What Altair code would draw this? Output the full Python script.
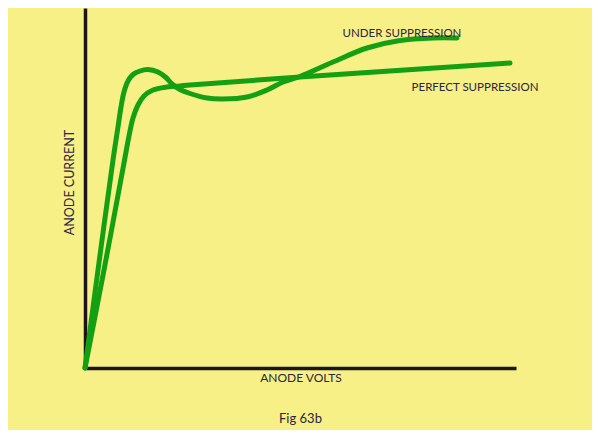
import altair as alt
import pandas as pd

# Curve readings (x: anode volts, y: anode current; arbitrary units)
under_x = [0, 13, 28, 33, 36, 39, 43, 48, 55, 63, 73, 81, 87, 95, 105, 122, 138, 162, 182, 198, 215, 248, 282, 315, 348, 372]
under_y = [0, 98, 208, 241, 261, 276, 287, 293.5, 297, 298.5, 296, 290.5, 284, 278.5, 274.5, 270, 269, 271, 278, 286, 291.5, 306, 320, 327.5, 330, 330]

perfect_x = [0, 19, 39, 44, 48, 53, 59, 68, 82, 95, 105, 215, 425]
perfect_y = [0, 98, 205, 232, 250, 263, 272, 278, 281, 282, 283, 291, 305]

label_text = ["UNDER SUPPRESSION", "PERFECT SUPPRESSION"]
label_x = [317, 390]
label_y = [334, 280]

rows = []
for i, (x, y) in enumerate(zip(under_x, under_y)):
    rows.append({"series": "under", "order": i, "v": x, "i": y})
for i, (x, y) in enumerate(zip(perfect_x, perfect_y)):
    rows.append({"series": "perfect", "order": i, "v": x, "i": y})
df = pd.DataFrame(rows)
labels = pd.DataFrame({"text": label_text, "v": label_x, "i": label_y})

BG = "#F6F086"
GREEN = "#14A012"
INK = "#2B2540"
FONT = "Lato"

xs = alt.Scale(domain=[0, 431], nice=False, zero=False)
ys = alt.Scale(domain=[0, 360], nice=False, zero=False)

x_axis = alt.Axis(title="ANODE VOLTS", ticks=False, labels=False, grid=False,
                  domainColor="#1C141A", domainWidth=3.5, titleFont=FONT,
                  titleFontSize=12, titleFontWeight="normal", titleColor=INK,
                  titlePadding=4)
y_axis = alt.Axis(title="ANODE CURRENT", ticks=False, labels=False, grid=False,
                  domainColor="#1C141A", domainWidth=3.5, titleFont=FONT,
                  titleFontSize=12.5, titleFontWeight="normal", titleColor=INK,
                  titlePadding=9, titleY=174)

lines = alt.Chart(df).mark_line(color=GREEN, strokeWidth=5, interpolate="catmull-rom",
                                strokeCap="round", strokeJoin="round").encode(
    x=alt.X("v:Q", scale=xs, axis=x_axis),
    y=alt.Y("i:Q", scale=ys, axis=y_axis),
    detail="series:N",
    order="order:Q",
)

texts = alt.Chart(labels).mark_text(font=FONT, fontSize=11.5, color=INK).encode(
    x=alt.X("v:Q", scale=xs),
    y=alt.Y("i:Q", scale=ys),
    text="text:N",
)

chart = alt.layer(lines, texts).properties(
    width=431, height=360,
    background=BG,
    padding={"left": 77, "top": 0, "right": 76, "bottom": 62},
    autosize=alt.AutoSizeParams(type="none"),
    title=alt.Title("Fig 63b", orient="bottom", font=FONT, fontSize=13,
                    fontWeight="normal", color=INK, offset=30),
).configure_view(stroke=None)

chart.save("out.html", embed_options={"renderer": "svg", "actions": False})
